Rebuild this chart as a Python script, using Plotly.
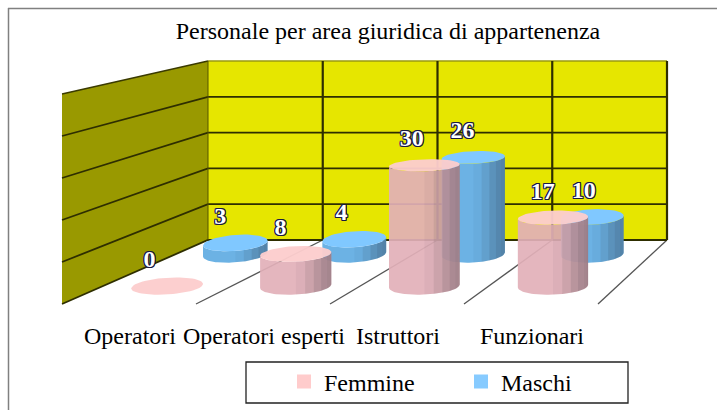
import math
import plotly.graph_objects as go

categories = ["Operatori", "Operatori esperti", "Istruttori", "Funzionari"]
femmine = [0, 8, 30, 17]
maschi = [3, 4, 26, 10]
value_ticks = [0, 10, 20, 30, 40, 50]
title_text = "Personale per area giuridica di appartenenza"

W, H = 717, 410
SERIF = "Liberation Serif, Times New Roman, serif"

# oblique perspective frame of the 3-D chart
FX0, FDX, BX0, BDX = 62.0, 134.0, 208.0, 114.75
FY, BY = 304.0, 240.0
FS, BS = 4.2, 3.58
N = len(categories)
RT = 0.135
SKEW = 0.5
T_F, T_M = 0.28, 0.78
RX_F, RX_M = 0.27, 0.26


def proj(c, t, v=0.0):
    xf = FX0 + FDX * c
    xb = BX0 + BDX * c
    x = xf + (xb - xf) * t
    y = FY + (BY - FY) * t - v * (FS + (BS - FS) * t)
    return x, y


fig = go.Figure()


def poly(xs, ys, fill):
    fig.add_trace(go.Scatter(x=xs, y=ys, mode="lines", fill="toself", fillcolor=fill,
                             line=dict(color="rgba(0,0,0,0)", width=0),
                             hoverinfo="skip", showlegend=False))


def line(xs, ys, color, w):
    fig.add_trace(go.Scatter(x=xs, y=ys, mode="lines", line=dict(color=color, width=w),
                             hoverinfo="skip", showlegend=False))


vmax = value_ticks[-1]
# walls
pts = [proj(0, 1, 0), proj(N, 1, 0), proj(N, 1, vmax), proj(0, 1, vmax)]
poly([p[0] for p in pts], [p[1] for p in pts], "#E6E600")
pts = [proj(0, 0, 0), proj(0, 1, 0), proj(0, 1, vmax), proj(0, 0, vmax)]
poly([p[0] for p in pts], [p[1] for p in pts], "#999900")
# floor lines
for c in range(1, N + 1):
    a, b = proj(c, 0), proj(c, 1)
    line([a[0], b[0]], [a[1], b[1]], "#555555", 1.3)
# wall grid
for v in value_ticks:
    a, b, d = proj(0, 0, v), proj(0, 1, v), proj(N, 1, v)
    if v == vmax:
        line([a[0], b[0]], [a[1], b[1]], "#3A3A00", 1.4)
        line([b[0], d[0]], [b[1], d[1]], "#9A9A10", 1.6)
    else:
        line([a[0], b[0], d[0]], [a[1], b[1], d[1]], "#2E2E00", 1.8)
for c in range(0, N + 1):
    a, b = proj(c, 1, 0), proj(c, 1, vmax)
    line([a[0], b[0]], [a[1], b[1]], "#2E2E00" if c else "#555500", 2.2 if c else 1)

SHADE = [(0, 0.0), (0.45, 0.0), (0.55, 0.03), (0.72, 0.14), (0.86, 0.26), (1, 0.34)]
NSTRIP = 12


def shade_at(f):
    for (f0, c0), (f1, c1) in zip(SHADE, SHADE[1:]):
        if f <= f1:
            return c0 + (c1 - c0) * (f - f0) / (f1 - f0)
    return SHADE[-1][1]


def draw_series(values, t0, rx, body, top):
    def pt(i, th, v):
        c = i + 0.5 + rx * math.cos(th)
        dt = RT * math.sin(th)
        return proj(c, t0 + dt * SKEW, v)[0], proj(c, t0 + dt, v)[1]

    body_x, body_y, top_x, top_y = [], [], [], []
    band_x = [[] for _ in range(NSTRIP)]
    band_y = [[] for _ in range(NSTRIP)]
    for i, v in enumerate(values):
        a = rx * (FDX + (BDX - FDX) * t0)
        b = SKEW * RT * ((BX0 + BDX * (i + .5)) - (FX0 + FDX * (i + .5)))
        th0 = math.atan2(b, a)
        if v > 0:
            # whole silhouette of the body, then darker bands laid over it
            lo = [pt(i, th0 - math.pi + math.pi * s / 48, 0) for s in range(49)]
            hi = [pt(i, th0 - math.pi * s / 48, v) for s in range(49)]
            body_x += [q[0] for q in lo + hi] + [lo[0][0], None]
            body_y += [q[1] for q in lo + hi] + [lo[0][1], None]
            for k in range(NSTRIP):
                t1 = th0 - math.pi + math.pi * k / NSTRIP
                t2 = th0 - math.pi + math.pi * (k + 1) / NSTRIP
                lo = [pt(i, t1 + (t2 - t1) * s / 4, 0) for s in range(5)]
                hi = [pt(i, t1 + (t2 - t1) * s / 4, v) for s in range(4, -1, -1)]
                p = lo + hi + [lo[0]]
                band_x[k] += [q[0] for q in p] + [None]
                band_y[k] += [q[1] for q in p] + [None]
        ring = [pt(i, 2 * math.pi * s / 60, v) for s in range(61)]
        top_x += [q[0] for q in ring] + [None]
        top_y += [q[1] for q in ring] + [None]
    poly(body_x, body_y, body)
    for k in range(NSTRIP):
        # screen position across the body decides how dark the band is
        f = (1 - math.cos(math.pi * (k + 0.5) / NSTRIP)) / 2
        s = shade_at(f)
        if s > 0:
            poly(band_x[k], band_y[k], f"rgba(30,30,40,{s:.3f})")
    poly(top_x, top_y, top)


draw_series(maschi, T_M, RX_M, "rgb(108,178,228)", "rgb(128,200,255)")
draw_series(femmine, T_F, RX_F, "rgba(226,176,184,0.92)", "rgba(252,205,205,0.96)")

# value labels
lx, ly, lt = [], [], []
for vals, t0, sh in ((maschi, T_M, 0.11), (femmine, T_F, 0.13)):
    for i, v in enumerate(vals):
        x, _ = proj(i + 0.5, t0 - sh)
        _, y = proj(i + 0.5, t0, v)
        lx.append(x)
        ly.append(y - 25)
        lt.append(str(v))
outline = ",".join(f"{dx}px {dy}px 0 #1a1a40" for dx, dy in
                   ((1, 0), (-1, 0), (0, 1), (0, -1), (1, 1), (-1, -1), (1, -1), (-1, 1)))
fig.add_trace(go.Scatter(x=lx, y=ly, text=lt, mode="text", textposition="middle center",
                         textfont=dict(family=SERIF, size=24, color="white", weight="bold", shadow=outline),
                         hoverinfo="skip", showlegend=False))

# category labels
fig.add_trace(go.Scatter(x=[proj(i + 0.5, 0)[0] + 1 for i in range(N)], y=[338] * N, text=categories,
                         mode="text", textposition="middle center",
                         textfont=dict(family=SERIF, size=24, color="black"),
                         hoverinfo="skip", showlegend=False))

# legend entries
for nm, col in (("Femmine", "#FFCCCC"), ("Maschi", "#87CBFF")):
    fig.add_trace(go.Scatter(x=[None], y=[None], mode="markers", name=nm,
                             marker=dict(symbol="square", size=14, color=col)))

fig.update_layout(
    width=W, height=H, autosize=False,
    margin=dict(l=0, r=0, t=0, b=0),
    paper_bgcolor="white", plot_bgcolor="white",
    title=dict(text=title_text, x=388 / W, y=1 - 31 / H, xanchor="center", yanchor="middle",
               font=dict(family=SERIF, size=24, color="black")),
    xaxis=dict(range=[0, W], visible=False, fixedrange=True),
    yaxis=dict(range=[H, 0], visible=False, fixedrange=True),
    legend=dict(orientation="h", x=284 / W, y=1 - 382 / H, xanchor="left", yanchor="middle",
                entrywidth=132, entrywidthmode="pixels", bgcolor="rgba(0,0,0,0)",
                font=dict(family=SERIF, size=24, color="black"), itemclick=False, itemdoubleclick=False),
    shapes=[
        dict(type="rect", xref="x", yref="y", x0=246, x1=628, y0=362, y1=403,
             line=dict(color="#222222", width=1.3)),
        dict(type="line", xref="x", yref="y", x0=8.5, x1=8.5, y0=8, y1=H, line=dict(color="#808080", width=1.5)),
        dict(type="line", xref="x", yref="y", x0=8, x1=W, y0=8.5, y1=8.5, line=dict(color="#808080", width=1.5)),
    ],
    showlegend=True,
)
fig.write_html("out.html", config={"displayModeBar": False},
               post_script="document.body.style.margin='0';document.body.style.overflow='hidden';")
